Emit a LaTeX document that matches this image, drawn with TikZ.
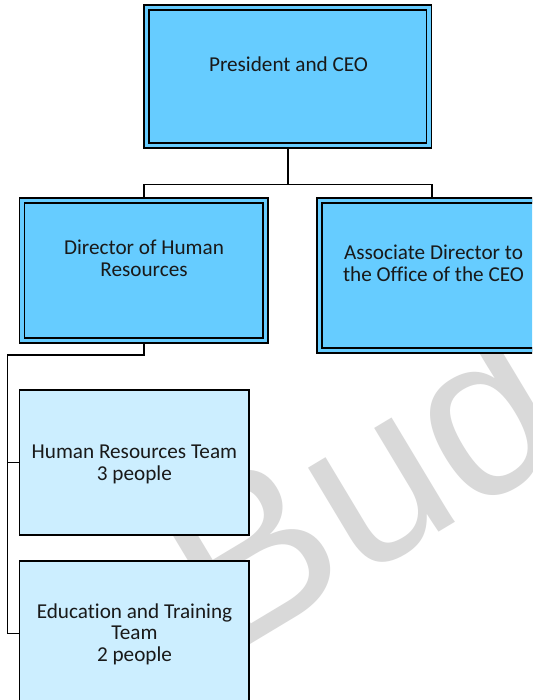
\documentclass[tikz,border=0pt]{standalone}
\usepackage{fontspec}
\setmainfont{Carlito}[Ligatures=CommonOff]
\newfontfamily\wmfont{Liberation Sans}
\definecolor{darkbox}{HTML}{66CCFF}
\definecolor{lightbox}{HTML}{CCEEFF}
\definecolor{wmgray}{HTML}{D9D9D9}
\begin{document}
\begin{tikzpicture}[x=1pt,y=-1pt,
  dbox/.style={draw=black, line width=1.8pt, double=darkbox, double distance=3.2pt, fill=darkbox, rectangle, inner sep=0pt, outer sep=3.35pt},
  lbox/.style={draw=black, line width=1.7pt, fill=lightbox, rectangle, inner sep=0pt, outer sep=0.85pt},
  lbl/.style={font=\fontsize{21.2}{21.8}\selectfont, align=center, inner sep=0pt, anchor=base, text=black!90},
  conn/.style={draw=black, line width=1.8pt},
  wm/.style={font=\wmfont\fontsize{231}{231}\selectfont, text=wmgray, rotate=31, anchor=base west, inner sep=0pt}]
\useasboundingbox (0,0) rectangle (532,700);
\clip (0,0) rectangle (532,700);
\fill[white] (0,0) rectangle (532,700);
\node[wm] (wmark) at (225.8,659.8) {Bud};

\node[dbox, minimum width=282.3pt, minimum height=138.1pt] (ceo) at (287.85,76.65) {};
\node[dbox, minimum width=243.7pt, minimum height=140.2pt] (dir) at (143.9,270.25) {};
\node[dbox, minimum width=224.7pt, minimum height=150.4pt] (assoc) at (432,275.35) {};
\node[lbox, minimum width=229.7pt, minimum height=145pt] (hr) at (134.4,462.5) {};
\node[lbox, minimum width=229.7pt, minimum height=145pt] (edu) at (134.4,633.5) {};

\node[lbl] (ceot) at (288.5,71.5) {President and CEO};
\node[lbl] (dirt) at (144,276.8) {Director of Human\\Resources};
\node[lbl] (assoct) at (433.5,281.6) {Associate Director to\\the Office of the CEO};
\node[lbl] (hrt) at (134.4,480.1) {Human Resources Team\\3 people};
\node[lbl] (edut) at (134.5,661.6) {Education and Training\\Team\\2 people};

\coordinate (bus) at (287.85,184.5);
\draw[conn] (ceo.south) -- (bus);
\draw[conn] (dir.north) |- (bus) -| (assoc.north);
\coordinate (spine) at (7.5,355.3);
\draw[conn] (dir.south) |- (spine) |- (edu.west);
\draw[conn] (spine) |- (hr.west);
\end{tikzpicture}
\end{document}
